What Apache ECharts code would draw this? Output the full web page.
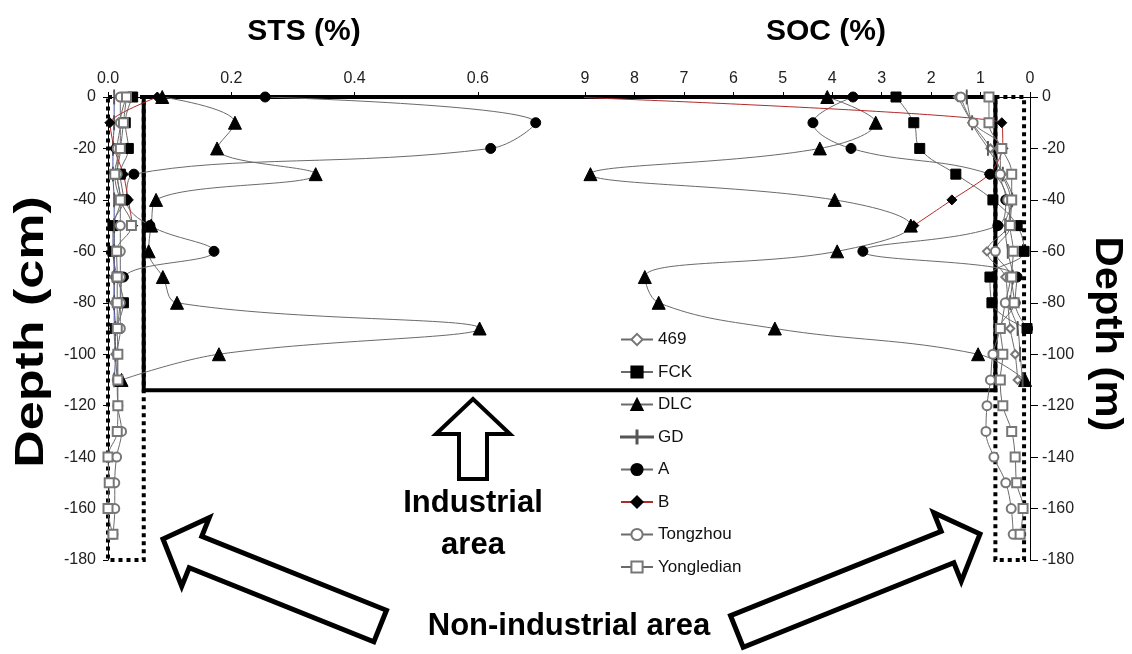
<!DOCTYPE html>
<html>
<head>
<meta charset="utf-8">
<script src="https://cdn.jsdelivr.net/npm/echarts@6/dist/echarts.min.js"></script>
<style>
html,body{margin:0;padding:0;background:#fff;}
#chart{width:1132px;height:654px;}
</style>
</head>
<body>
<div id="chart"></div>
<script>
// Sampling depths (cm)
const depthInd = [0,-10,-20,-30,-40,-50,-60,-70,-80,-90,-100,-110];
const depthNon = [0,-10,-20,-30,-40,-50,-60,-70,-80,-90,-100,-110,-120,-130,-140,-150,-160,-170];
const depthTicks = [0,-20,-40,-60,-80,-100,-120,-140,-160,-180];
const stsTicks = [0.0,0.2,0.4,0.6];
const socTicks = [9,8,7,6,5,4,3,2,1,0];

// STS (%) profiles
const sts469  = [0.030,0.020,0.020,0.015,0.020,0.010,0.010,0.010,0.010,0.010,0.012,0.015];
const stsFCK  = [0.040,0.028,0.033,0.020,0.025,0.008,0.008,0.015,0.025,0.012];
const stsDLC  = [0.088,0.206,0.177,0.337,0.078,0.070,0.066,0.089,0.112,0.603,0.180,0.022];
const stsGD   = [0.010,0.010,0.008,0.008,0.010,0.010,0.010,0.010,0.010,0.012,0.012,0.010,0.005];
const stsA    = [0.255,0.694,0.621,0.042,0.030,0.068,0.172,0.025,0.020,0.015];
const stsB    = [0.080,0.003,0.010,0.025,0.033,0.040];
const stsTong = [0.020,0.020,0.015,0.015,0.020,0.020,0.020,0.020,0.020,0.020,0.015,0.015,0.016,0.022,0.014,0.011,0.011,0.008];
const stsYong = [0.030,0.025,0.020,0.011,0.020,0.038,0.014,0.015,0.015,0.015,0.016,0.016,0.016,0.015,0.000,0.002,0.000,0.008];

// SOC (%) profiles
const soc469  = [1.46,1.17,0.80,0.57,0.40,0.45,0.87,0.50,0.45,0.40,0.30,0.25];
const socFCK  = [2.71,2.35,2.23,1.50,0.75,0.26,0.12,0.81,0.77,0.06];
const socDLC  = [4.10,3.12,4.25,8.89,3.95,2.41,3.90,7.79,7.51,5.16,1.05,0.10];
const socGD   = [1.28,1.17,0.85,0.55,0.36,0.50,0.45,0.35,0.40,0.25,0.20,0.15,0.20];
const socA    = [3.58,4.39,3.62,0.81,0.49,0.65,3.38,0.26,0.30,0.05];
const socB    = [9.30,0.57,0.55,0.82,1.58,2.35];
const socTong = [1.40,1.15,0.60,0.60,0.45,0.40,0.70,0.40,0.50,0.60,0.75,0.80,0.87,0.89,0.73,0.49,0.38,0.34];
const socYong = [0.83,0.83,0.57,0.37,0.37,0.40,0.34,0.37,0.32,0.60,0.55,0.60,0.55,0.37,0.30,0.27,0.14,0.20];

const FONT = '"Liberation Sans", Arial, Helvetica, sans-serif';
const GREY = '#6a6a6a';

// GD marker: a short vertical bar; its legend key is a line crossed by that bar
const GD_SYMBOL = 'path://M0,0H1V10H0Z';
const GD_LEGEND_ICON = 'path://M0,6.6H32V7.4H0Z M15.5,0.5H16.5V13.5H15.5Z';

// station styles: marker, size, line colour, marker fill
const stations = [
  {name:'469',        sts:sts469,  soc:soc469,  d:depthInd, symbol:'emptyDiamond', size:8,  line:GREY,    mark:'#777'},
  {name:'FCK',        sts:stsFCK,  soc:socFCK,  d:depthInd, symbol:'rect',         size:10, line:GREY,    mark:'#000'},
  {name:'DLC',        sts:stsDLC,  soc:socDLC,  d:depthInd, symbol:'triangle',     size:13, line:GREY,    mark:'#000'},
  {name:'GD',         sts:stsGD,   soc:socGD,   d:depthInd, symbol:GD_SYMBOL, size:[1.5,12], line:GREY, mark:'#555', stsLine:'#4a55a8', icon:GD_LEGEND_ICON},
  {name:'A',          sts:stsA,    soc:socA,    d:depthInd, symbol:'circle',       size:10, line:GREY,    mark:'#000'},
  {name:'B',          sts:stsB,    soc:socB,    d:depthInd, symbol:'diamond',      size:10, line:'#b02a2a', mark:'#000', smooth:0.2},
  {name:'Tongzhou',   sts:stsTong, soc:socTong, d:depthNon, symbol:'emptyCircle',  size:9,  line:GREY,    mark:'#777'},
  {name:'Yongledian', sts:stsYong, soc:socYong, d:depthNon, symbol:'emptyRect',    size:9,  line:GREY,    mark:'#777'}
];

function makeSeries(st, values, axisIdx, lineColor) {
  return {
    name: st.name,
    type: 'line',
    xAxisIndex: axisIdx,
    yAxisIndex: axisIdx,
    data: values.map((v, i) => [v, st.d[i]]),
    smooth: st.smooth != null ? st.smooth : 0.4,
    symbol: st.symbol,
    symbolSize: st.size,
    showAllSymbol: true,
    lineStyle: {color: lineColor, width: 1},
    itemStyle: {color: st.mark, borderColor: st.mark, borderWidth: 1},
    emphasis: {disabled: true},
    z: 3
  };
}

const series = [];
stations.forEach(st => series.push(makeSeries(st, st.soc, 1, st.line)));
stations.forEach(st => series.push(makeSeries(st, st.sts, 0, st.stsLine || st.line)));

const axisLabelStyle = {color: '#222', fontSize: 16, fontFamily: FONT};
const PLOT_TOP = 97, PLOT_H = 463;

const option = {
  animation: false,
  backgroundColor: '#fff',
  grid: [
    {left: 108, top: PLOT_TOP, width: 477, height: PLOT_H},
    {left: 585, top: PLOT_TOP, width: 445, height: PLOT_H}
  ],
  xAxis: [
    {
      gridIndex: 0, type: 'value', position: 'top', min: 0, max: 0.774, interval: 0.2,
      axisLine: {show: true, lineStyle: {color: '#000', width: 1}},
      axisTick: {show: true, length: 5, lineStyle: {color: '#000'}},
      axisLabel: Object.assign({margin: 10, showMaxLabel: false,
        formatter: v => stsTicks.some(t => Math.abs(t - v) < 1e-6) ? v.toFixed(1) : ''}, axisLabelStyle),
      splitLine: {show: false}
    },
    {
      gridIndex: 1, type: 'value', position: 'top', min: 0, max: 9, interval: 1, inverse: true,
      axisLine: {show: true, lineStyle: {color: '#000', width: 1}},
      axisTick: {show: true, length: 5, lineStyle: {color: '#000'}},
      axisLabel: Object.assign({margin: 10,
        formatter: v => socTicks.indexOf(v) >= 0 ? String(v) : ''}, axisLabelStyle),
      splitLine: {show: false}
    }
  ],
  yAxis: [
    {
      gridIndex: 0, type: 'value', position: 'left', min: -180, max: 0, interval: 20,
      axisLine: {show: true, lineStyle: {color: '#000', width: 1}},
      axisTick: {show: true, length: 5, lineStyle: {color: '#000'}},
      axisLabel: Object.assign({margin: 12,
        formatter: v => depthTicks.indexOf(v) >= 0 ? String(v) : ''}, axisLabelStyle),
      splitLine: {show: false}
    },
    {
      gridIndex: 1, type: 'value', position: 'right', min: -180, max: 0, interval: 20,
      axisLine: {show: true, lineStyle: {color: '#000', width: 1}},
      axisTick: {show: true, length: 8, lineStyle: {color: '#000'}},
      axisLabel: Object.assign({margin: 12,
        formatter: v => depthTicks.indexOf(v) >= 0 ? String(v) : ''}, axisLabelStyle),
      splitLine: {show: false}
    }
  ],
  legend: {
    orient: 'vertical',
    left: 615,
    top: 326,
    itemWidth: 32,
    itemHeight: 14,
    itemGap: 15.5,
    data: stations.map(s => s.icon ? {name: s.name, icon: s.icon} : s.name),
    textStyle: {color: '#111', fontSize: 17, fontFamily: FONT},
    selectedMode: false
  },
  series: series
};

const chart = echarts.init(document.getElementById('chart'), null, {renderer: 'canvas'});
chart.setOption(option);

// Region boxes in data coordinates
const INDUSTRIAL_STS_EDGE = 0.058;   // left panel, STS (%)
const INDUSTRIAL_SOC_EDGE = 0.70;    // right panel, SOC (%)
const INDUSTRIAL_DEPTH = -114;
const NONIND_SOC_EDGE = 0.12;
const NONIND_DEPTH = -180;

const pL = (x, y) => chart.convertToPixel({xAxisIndex: 0, yAxisIndex: 0}, [x, y]);
const pR = (x, y) => chart.convertToPixel({xAxisIndex: 1, yAxisIndex: 1}, [x, y]);

const indTL = pL(INDUSTRIAL_STS_EDGE, 0);
const indBR = pR(INDUSTRIAL_SOC_EDGE, INDUSTRIAL_DEPTH);
const lTL = pL(0, 0), lBR = pL(INDUSTRIAL_STS_EDGE, NONIND_DEPTH);
const rTL = pR(INDUSTRIAL_SOC_EDGE, 0), rBR = pR(NONIND_SOC_EDGE, NONIND_DEPTH);

function boxPoints(a, b) {
  return [[a[0], a[1]], [b[0], a[1]], [b[0], b[1]], [a[0], b[1]]];
}

function arrow(tip, ux, uy, len, headLen, headHalf, shaftHalf) {
  const nx = -uy, ny = ux;
  const p = (u, n) => [tip[0] + ux * u + nx * n, tip[1] + uy * u + ny * n];
  return [p(0, 0), p(headLen, headHalf), p(headLen, shaftHalf), p(len, shaftHalf),
          p(len, -shaftHalf), p(headLen, -shaftHalf), p(headLen, -headHalf)];
}

const boldText = (txt, x, y, size, extra) => Object.assign({
  type: 'text', x: x, y: y, z: 20,
  style: {text: txt, fill: '#000', fontSize: size, fontWeight: 'bold', fontFamily: FONT,
          align: 'center', verticalAlign: 'middle', textAlign: 'center', textVerticalAlign: 'middle'}
}, extra || {});

const dotted = {stroke: '#000', lineWidth: 4, lineDash: [4, 4], fill: null};

chart.setOption({
  graphic: [
    {type: 'polygon', z: 1, shape: {points: boxPoints(lTL, lBR)}, style: dotted},
    {type: 'polygon', z: 1, shape: {points: boxPoints(rTL, rBR)}, style: dotted},
    {type: 'polygon', z: 1, shape: {points: boxPoints(indTL, indBR)},
     style: {stroke: '#000', lineWidth: 4, fill: null}},
    {type: 'polygon', z: 10, shape: {points: arrow([473, 399], 0, 1, 80, 35, 37, 14)},
     style: {fill: '#fff', stroke: '#000', lineWidth: 4}},
    {type: 'polygon', z: 10, shape: {points: arrow([163, 539], 0.928, 0.372, 234, 35, 37, 17)},
     style: {fill: '#fff', stroke: '#000', lineWidth: 5}},
    {type: 'polygon', z: 10, shape: {points: arrow([980, 534], -0.928, 0.372, 262, 35, 37, 17)},
     style: {fill: '#fff', stroke: '#000', lineWidth: 5}},
    boldText('STS (%)', 304, 32, 30),
    boldText('SOC (%)', 826, 32, 30),
    boldText('Depth (cm)', 32, 332, 40, {rotation: Math.PI / 2, scaleX: 1.3}),
    boldText('Depth (m)', 1106, 334, 38, {rotation: -Math.PI / 2, scaleX: 1.1}),
    boldText('Industrial', 473, 503, 31),
    boldText('area', 473, 545, 31),
    boldText('Non-industrial area', 569, 626, 31)
  ]
});
</script>
</body>
</html>
